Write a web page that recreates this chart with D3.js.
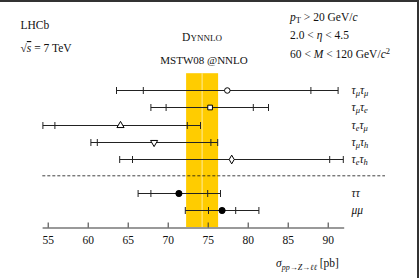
<!DOCTYPE html>
<html>
<head>
<meta charset="utf-8">
<script src="https://cdn.jsdelivr.net/npm/d3@7"></script>
<style>
  body { margin: 0; background: #fff; }
  svg { display: block; }
  text { font-family: "Liberation Serif", "DejaVu Serif", serif; fill: #111; }
</style>
</head>
<body>
<svg id="chart" width="419" height="278"></svg>
<script>
// Data
const channels = [
  [['τ', 'μ'], ['τ', 'μ']],
  [['τ', 'μ'], ['τ', 'e']],
  [['τ', 'e'], ['τ', 'μ']],
  [['τ', 'μ'], ['τ', 'h']],
  [['τ', 'e'], ['τ', 'h']],
  [['τ', ''], ['τ', '']],
  [['μ', ''], ['μ', '']],
];
const rowSlot = [0, 1, 2, 3, 4, 6, 7];
const central = [77.45, 75.3, 64.1, 68.3, 78.0, 71.4, 76.8];
const statLo = [66.95, 69.8, 55.9, 61.2, 65.6, 67.9, 75.1];
const statHi = [87.9, 80.7, 72.45, 75.4, 90.25, 75.0, 78.5];
const totLo = [63.6, 67.9, 54.4, 60.4, 64.0, 66.3, 72.2];
const totHi = [91.3, 82.6, 74.1, 76.25, 91.95, 76.6, 81.4];
const markers = ['circleOpen', 'squareOpen', 'triUp', 'triDown', 'diamondOpen', 'circleFilled', 'circleFilled'];
const predLo = 72.3, predCentral = 74.3, predHi = 76.3;
const separatorSlot = 5;
const tickValues = [55, 60, 65, 70, 75, 80, 85, 90];

const svg = d3.select('#chart');

const x = d3.scaleLinear().domain([54.3, 92]).range([42.1, 343.7]);
const y = d3.scaleLinear().domain([0, 7]).range([90.3, 210]);
const axisY = 227.5;

// prediction band
svg.append('rect')
  .attr('x', x(predLo))
  .attr('width', x(predHi) - x(predLo))
  .attr('y', y(-1))
  .attr('height', axisY - y(-1))
  .attr('fill', '#ffcc00');
svg.append('line')
  .attr('x1', x(predCentral)).attr('x2', x(predCentral))
  .attr('y1', y(-1)).attr('y2', axisY)
  .attr('stroke', '#ffec9a').attr('stroke-width', 1);

// dashed separator
svg.append('line')
  .attr('x1', 42.3).attr('x2', 385)
  .attr('y1', y(separatorSlot)).attr('y2', y(separatorSlot))
  .attr('stroke', '#111').attr('stroke-width', 0.8)
  .attr('stroke-dasharray', '3,2');

// axis
const xAxis = d3.axisBottom(x)
  .tickValues(tickValues)
  .tickSizeInner(-5)
  .tickSizeOuter(0)
  .tickPadding(8);
const gx = svg.append('g')
  .attr('transform', 'translate(0,' + axisY + ')')
  .call(xAxis)
  .attr('font-family', '"Liberation Serif", serif')
  .attr('font-size', 11.5);
gx.select('.domain').attr('stroke', '#999').attr('stroke-width', 2);
gx.selectAll('.tick line').attr('stroke', '#333');
gx.selectAll('.tick text').attr('fill', '#111');

// adds text with simple subscripts: parts = [[main, sub], ...]
function subText(t, parts, subSize, drop) {
  let shift = 0;
  parts.forEach(p => {
    t.append('tspan').attr('dy', -shift).text(p[0]);
    shift = 0;
    if (p[1]) {
      t.append('tspan').attr('dy', drop).style('font-size', subSize).text(p[1]);
      shift = drop;
    }
  });
}

// error bars
const rows = central.map((c, i) => ({
  c, i, slot: rowSlot[i],
  sLo: statLo[i], sHi: statHi[i], tLo: totLo[i], tHi: totHi[i],
  marker: markers[i], label: channels[i],
}));

const g = svg.append('g').attr('class', 'bars');
rows.forEach(d => {
  const yy = Math.round(y(d.slot)) + 0.5;
  const row = g.append('g');
  row.append('line')
    .attr('x1', x(d.tLo)).attr('x2', x(d.tHi))
    .attr('y1', yy).attr('y2', yy)
    .attr('stroke', '#222').attr('stroke-width', 1);
  [d.tLo, d.sLo, d.sHi, d.tHi].forEach(v => {
    row.append('line')
      .attr('x1', x(v)).attr('x2', x(v))
      .attr('y1', yy - 3.5).attr('y2', yy + 3.5)
      .attr('stroke', '#222').attr('stroke-width', 1);
  });

  let type = d3.symbolCircle, size = 24, fill = '#fff', rot = 0;
  if (d.marker === 'squareOpen') { type = d3.symbolSquare; size = 22; }
  if (d.marker === 'triUp') { type = d3.symbolTriangle; size = 22; }
  if (d.marker === 'triDown') { type = d3.symbolTriangle; size = 22; rot = 180; }
  if (d.marker === 'diamondOpen') { type = d3.symbolDiamond; size = 22; }
  if (d.marker === 'circleFilled') { size = 30; fill = '#000'; }
  row.append('path')
    .attr('d', d3.symbol().type(type).size(size)())
    .attr('transform', `translate(${x(d.c)},${yy}) rotate(${rot})`)
    .attr('fill', fill)
    .attr('stroke', '#000')
    .attr('stroke-width', 1);

  // channel label
  const t = svg.append('text')
    .attr('x', 351.5)
    .attr('y', yy + 3)
    .style('font-size', '11.5px')
    .style('font-style', 'italic');
  subText(t, d.label, '8.5px', 2.5);
});

// annotations left
svg.append('text').attr('x', 20.5).attr('y', 28.5)
  .style('font-size', '11.5px').text('LHCb');
const rs = svg.append('text').attr('x', 20.5).attr('y', 52)
  .style('font-size', '11.5px');
rs.append('tspan').text('√');
rs.append('tspan').style('font-style', 'italic')
  .style('text-decoration', 'overline').text('s');
rs.append('tspan').text(' = 7 TeV');

// prediction labels
const dy = svg.append('text').attr('x', 202).attr('y', 40.5)
  .attr('text-anchor', 'middle').style('font-size', '11.5px');
dy.append('tspan').text('D');
dy.append('tspan').style('font-size', '9px').text('YNNLO');
svg.append('text').attr('x', 204).attr('y', 63.5)
  .attr('text-anchor', 'middle').style('font-size', '11px')
  .text('MSTW08 @NNLO');

// annotations right
const pt = svg.append('text').attr('x', 290).attr('y', 20.5).style('font-size', '11.5px');
pt.append('tspan').style('font-style', 'italic').text('p');
pt.append('tspan').attr('dy', 2.5).style('font-size', '8.5px').text('T');
pt.append('tspan').attr('dy', -2.5).text(' > 20 GeV/');
pt.append('tspan').style('font-style', 'italic').text('c');

const eta = svg.append('text').attr('x', 290).attr('y', 39).style('font-size', '11.5px');
eta.append('tspan').text('2.0 < ');
eta.append('tspan').style('font-style', 'italic').text('η');
eta.append('tspan').text(' < 4.5');

const mm = svg.append('text').attr('x', 290).attr('y', 58).style('font-size', '11.5px');
mm.append('tspan').text('60 < ');
mm.append('tspan').style('font-style', 'italic').text('M');
mm.append('tspan').text(' < 120 GeV/');
mm.append('tspan').style('font-style', 'italic').text('c');
mm.append('tspan').attr('dy', -4).style('font-size', '8.5px').text('2');

// axis title
const at = svg.append('text').attr('x', 276).attr('y', 267).style('font-size', '11.5px');
at.append('tspan').style('font-style', 'italic').text('σ');
at.append('tspan').attr('dy', 2.5).style('font-size', '8px').style('font-style', 'italic').text('pp→Z→ℓℓ');
at.append('tspan').attr('dy', -2.5).text(' [pb]');

// frame (top and right edges visible in the crop)
svg.append('line').attr('x1', 0).attr('x2', 419).attr('y1', 1).attr('y2', 1)
  .attr('stroke', '#333').attr('stroke-width', 2);
svg.append('line').attr('x1', 418).attr('x2', 418).attr('y1', 0).attr('y2', 278)
  .attr('stroke', '#333').attr('stroke-width', 2);
</script>
</body>
</html>
